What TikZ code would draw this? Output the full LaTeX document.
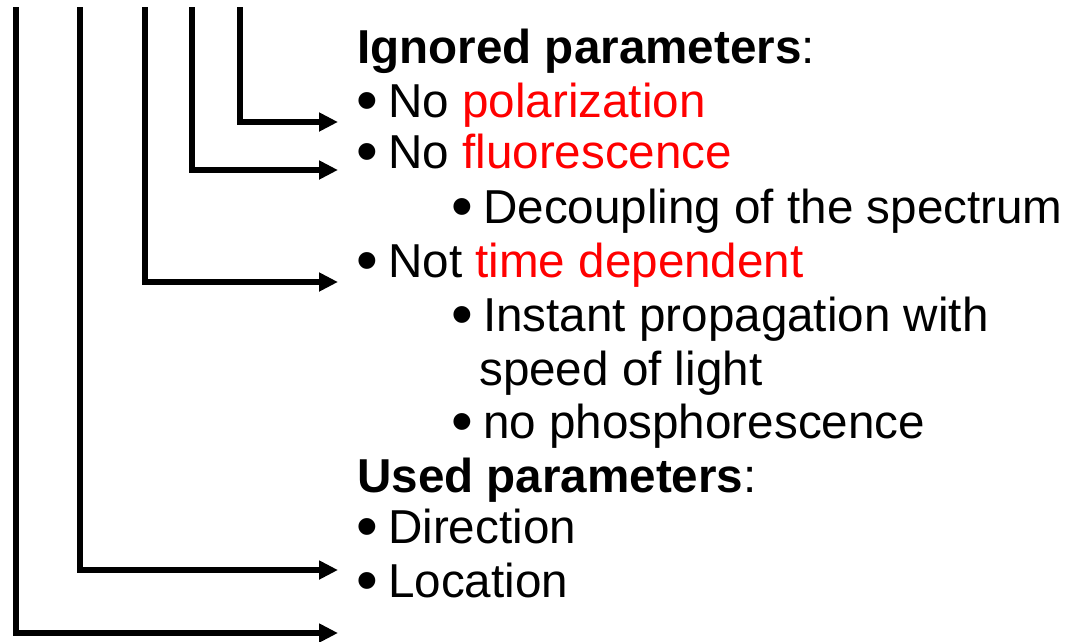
\documentclass[tikz,border=0pt]{standalone}
\usepackage{fontspec}
\setmainfont{Liberation Sans}
\usetikzlibrary{arrows.meta,calc}
\definecolor{hl}{RGB}{255,0,0}
\newcommand\bul{\makebox[32pt][l]{\smash{\raisebox{-4pt}{\fontsize{62}{62}\selectfont •}}}}
\newcommand\hl[1]{\textcolor{hl}{#1}}
\tikzset{
  line/.style={draw, line width=5.5pt, line join=miter, -{Triangle[length=19pt,width=18pt]}},
  txt/.style={anchor=base west, inner sep=0pt, font=\fontsize{47.6}{54}\selectfont},
}
\begin{document}
\begin{tikzpicture}[x=1pt,y=-1pt]
\useasboundingbox (0,0) rectangle (1070,641);
% text lines
\node[txt] (ign) at (357,63) {\textbf{Ignored parameters}:};
\node[txt] (pol) at (356,117) {\bul No \hl{polarization}};
\node[txt] (flu) at (356,168) {\bul No \hl{fluorescence}};
\node[txt] (dec) at (451,223) {\bul Decoupling of the spectrum};
\node[txt] (tim) at (356,277) {\bul Not \hl{time dependent}};
\node[txt] (ins) at (451,331) {\bul Instant propagation with};
\node[txt] (spd) at (479,385) {speed of light};
\node[txt] (pho) at (451,438) {\bul no phosphorescence};
\node[txt] (use) at (357,492) {\textbf{Used parameters}:};
\node[txt] (dir) at (356,543) {\bul Direction};
\node[txt] (loc) at (356,597) {\bul Location};
% free ends
\coordinate (s1) at (16,7);
\coordinate (s2) at (80,7);
\coordinate (s3) at (145,7);
\coordinate (s4) at (192,7);
\coordinate (s5) at (240,7);
\coordinate (e1) at (338,633);
% connectors
\draw[line] (s5) |- ($(pol.base west)+(-18,5)$);
\draw[line] (s4) |- ($(flu.base west)+(-18,2)$);
\draw[line] (s3) |- ($(tim.base west)+(-18,5)$);
\draw[line] (s2) |- ($(loc.base west)+(-18,-27)$);
\draw[line] (s1) |- (e1);
\end{tikzpicture}
\end{document}
